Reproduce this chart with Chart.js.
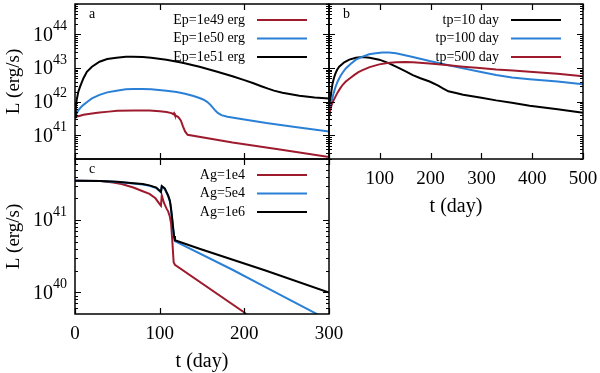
<!DOCTYPE html>
<html>
<head>
<meta charset="utf-8">
<script src="https://cdn.jsdelivr.net/npm/chart.js@4"></script>
<style>
  body { margin: 0; background: #fff; }
  #wrap { position: relative; width: 600px; height: 373px; }
  #wrap canvas { position: absolute; left: 0; top: 0; }
</style>
</head>
<body>
<div id="wrap">
  <canvas id="chartA" width="600" height="373"></canvas>
  <canvas id="chartB" width="600" height="373"></canvas>
  <canvas id="chartC" width="600" height="373"></canvas>
</div>
<script>
// panel a: different Ep
const tA49 = [0, 5, 10, 20, 29, 40, 50, 69, 88, 100, 108, 114, 116, 117, 118, 122, 125, 127.5, 130, 133, 186, 240, 300];
const lA49 = [3.5e41, 3.8e41, 4.1e41, 4.5e41, 4.8e41, 5.1e41, 5.4e41, 5.5e41, 5.5e41, 5.25e41, 5.0e41, 4.6e41, 4.3e41, 4.6e41, 4.0e41, 3.5e41, 2.8e41, 1.86e41, 1.32e41, 1.05e41, 6.2e40, 3.9e40, 2.3e40];
const tA50 = [0, 2, 4, 7, 10, 15, 20, 29, 38, 49, 60, 69, 80, 90, 108, 120, 130, 140, 147, 152, 156, 160, 163, 166, 169, 173, 180, 200, 226, 260, 300];
const lA50 = [3.5e41, 4.5e41, 5.6e41, 6.9e41, 8.1e41, 1.02e42, 1.26e42, 1.6e42, 1.9e42, 2.14e42, 2.34e42, 2.4e42, 2.4e42, 2.34e42, 2.14e42, 1.95e42, 1.74e42, 1.48e42, 1.29e42, 1.15e42, 1.0e42, 8.1e41, 6.6e41, 5.4e41, 4.6e41, 4.0e41, 3.6e41, 3.0e41, 2.34e41, 1.78e41, 1.32e41];
const tA51 = [0, 1, 2, 4, 6, 10, 14, 20, 29, 38, 49, 60, 68, 80, 90, 108, 127, 147, 166, 186, 200, 210, 220, 228, 235, 245, 265, 283, 300];
const lA51 = [3.5e41, 7.1e41, 1.15e42, 2.0e42, 2.8e42, 5.0e42, 7.8e42, 1.1e43, 1.55e43, 1.86e43, 2.04e43, 2.16e43, 2.19e43, 2.14e43, 2.04e43, 1.78e43, 1.45e43, 1.1e43, 8.1e42, 5.75e42, 4.4e42, 3.6e42, 2.9e42, 2.45e42, 2.14e42, 1.86e42, 1.5e42, 1.35e42, 1.26e42];

// panel b: different tp
const tB10 = [0, 1.5, 3, 5, 7, 10, 13, 16, 20, 30, 40, 53, 66, 80, 99, 115, 132, 150, 165, 180, 198, 215, 225, 235, 250, 264, 300, 329, 360, 395, 450, 500];
const lB10 = [4.2e41, 7.9e41, 1.26e42, 2.24e42, 3.5e42, 5.25e42, 7.1e42, 8.9e42, 1.1e43, 1.48e43, 1.78e43, 2.04e43, 2.14e43, 2.04e43, 1.78e43, 1.45e43, 1.1e43, 8.1e42, 6.2e42, 5.0e42, 4.0e42, 3.0e42, 2.45e42, 2.04e42, 1.82e42, 1.62e42, 1.32e42, 1.1e42, 9.3e41, 7.6e41, 6.0e41, 4.7e41];
const tB100 = [0, 3, 5, 9, 13, 17, 22, 27, 33, 43, 53, 66, 79, 92, 105, 118, 132, 165, 198, 231, 264, 297, 329, 360, 395, 450, 500];
const lB100 = [4.2e41, 7.1e41, 1.0e42, 1.78e42, 2.8e42, 4.0e42, 5.6e42, 7.4e42, 9.8e42, 1.35e43, 1.78e43, 2.19e43, 2.57e43, 2.75e43, 2.88e43, 2.88e43, 2.75e43, 2.14e43, 1.62e43, 1.26e43, 9.8e42, 7.8e42, 6.2e42, 5.25e42, 4.7e42, 4.0e42, 3.3e42];
const tB500 = [0, 3, 5, 9, 13, 17, 22, 27, 33, 42, 50, 58, 66, 80, 99, 115, 132, 150, 165, 198, 231, 264, 297, 329, 362, 395, 450, 500];
const lB500 = [4.2e41, 6.0e41, 7.9e41, 1.1e42, 1.45e42, 1.9e42, 2.5e42, 3.2e42, 4.0e42, 5.1e42, 6.3e42, 7.6e42, 8.7e42, 1.07e43, 1.29e43, 1.41e43, 1.48e43, 1.51e43, 1.48e43, 1.38e43, 1.23e43, 1.1e43, 1.0e43, 9.1e42, 8.5e42, 7.8e42, 6.8e42, 5.75e42];

// panel c: different Ag
const tC1e4 = [0, 30, 45, 55, 69, 80, 88, 95, 100, 101.5, 102.5, 105, 108, 110, 112, 113.5, 115, 116.5, 118, 200, 205];
const lC1e4 = [3.5e41, 3.47e41, 3.3e41, 3.16e41, 2.82e41, 2.5e41, 2.3e41, 2.0e41, 1.66e41, 1.58e41, 2.2e41, 1.74e41, 1.45e41, 1.32e41, 1.12e41, 8.9e40, 5.0e40, 2.6e40, 2.4e40, 5.25e39, 4.6e39];
const tC5e4 = [0, 30, 50, 69, 80, 88, 96, 101.5, 102.5, 106, 108, 110, 112, 113, 114.5, 116, 117, 118, 186, 225, 290];
const lC5e4 = [3.5e41, 3.46e41, 3.37e41, 3.2e41, 3.1e41, 2.97e41, 2.78e41, 2.42e41, 2.92e41, 2.7e41, 2.4e41, 2.14e41, 1.82e41, 1.55e41, 1.1e41, 7.4e40, 5.9e40, 5.1e40, 2.05e40, 1.18e40, 4.7e39];
const tC1e6 = [0, 30, 50, 69, 80, 88, 96, 101.5, 102.5, 106, 108, 110, 112, 113, 114.5, 116, 117, 118, 147, 225, 300];
const lC1e6 = [3.5e41, 3.47e41, 3.39e41, 3.24e41, 3.16e41, 3.02e41, 2.82e41, 2.45e41, 2.95e41, 2.75e41, 2.45e41, 2.19e41, 1.86e41, 1.58e41, 1.12e41, 7.6e40, 6.0e40, 5.25e40, 4.0e40, 2.0e40, 9.9e39];

const xTicksA = [0, 100, 200, 300];
const xTicksB = [100, 200, 300, 400, 500];
const RED = '#9e1b2e', BLUE = '#2a80d6', BLACK = '#000000';
const FONT = '"Liberation Serif", "DejaVu Serif", serif';

function pts(ts, ls) {
    return ts.map((t, i) => ({ x: t, y: ls[i] }));
}

function ds(label, ts, ls, color, order) {
    return {
        label,
        data: pts(ts, ls),
        borderColor: color,
        borderWidth: 2,
        pointRadius: 0,
        fill: false,
        tension: 0,
        order,
    };
}

// frame, inside ticks, tick labels, legend and axis titles (gnuplot look)
const framePlugin = {
    id: 'frame',
    afterDraw(chart, args, o) {
        const { ctx, chartArea: a, scales: { x, y } } = chart;
        ctx.save();
        ctx.strokeStyle = '#000';
        ctx.lineWidth = 1.2;
        ctx.beginPath();

        // x ticks
        o.xTicks.forEach(v => {
            const px = Math.round(x.getPixelForValue(v)) + 0.5;
            ctx.moveTo(px, a.bottom); ctx.lineTo(px, a.bottom - 6);
            ctx.moveTo(px, a.top); ctx.lineTo(px, a.top + 6);
        });

        // log y ticks
        const lo = Math.floor(Math.log10(y.min)), hi = Math.ceil(Math.log10(y.max));
        for (let k = lo; k <= hi; k++) {
            for (let m = 1; m <= 9; m++) {
                const v = m * Math.pow(10, k);
                if (v < y.min || v > y.max) continue;
                const py = Math.round(y.getPixelForValue(v)) + 0.5;
                const len = m === 1 ? 6 : 3;
                ctx.moveTo(a.left, py); ctx.lineTo(a.left + len, py);
                ctx.moveTo(a.right, py); ctx.lineTo(a.right - len, py);
            }
        }
        ctx.stroke();
        ctx.lineWidth = 1.5;
        ctx.strokeRect(a.left, a.top, a.width, a.height);

        ctx.fillStyle = '#000';
        ctx.textBaseline = 'middle';

        // y tick labels 10^n
        if (o.yLabels) {
            for (let k = lo; k <= hi; k++) {
                const v = Math.pow(10, k);
                if (v < y.min || v > y.max) continue;
                const py = y.getPixelForValue(v);
                ctx.font = '14px ' + FONT;
                ctx.textAlign = 'right';
                const ew = ctx.measureText(String(k)).width;
                ctx.fillText(String(k), a.left - 8, py - 8);
                ctx.font = '20px ' + FONT;
                ctx.fillText('10', a.left - 8 - ew, py + 1);
            }
            ctx.save();
            ctx.translate(a.left - 61, (a.top + a.bottom) / 2);
            ctx.rotate(-Math.PI / 2);
            ctx.textAlign = 'center';
            ctx.font = '19px ' + FONT;
            ctx.fillText('L (erg/s)', 0, 0);
            ctx.restore();
        }

        // x tick labels
        if (o.xLabels) {
            ctx.font = '19px ' + FONT;
            ctx.textAlign = 'center';
            o.xLabels.forEach(v => {
                ctx.fillText(String(v), x.getPixelForValue(v), a.bottom + 20);
            });
            ctx.font = '20px ' + FONT;
            ctx.fillText('t (day)', (a.left + a.right) / 2, a.bottom + 48);
        }

        // panel letter
        ctx.font = '14px ' + FONT;
        ctx.textAlign = 'left';
        ctx.fillText(o.letter, a.left + 14, a.top + 10);

        // legend, in dataset order
        ctx.font = '14px ' + FONT;
        chart.data.datasets.forEach((d, i) => {
            const ly = a.top + 16 + i * 18.5;
            ctx.textAlign = 'right';
            ctx.fillText(d.label, o.legendX, ly);
            ctx.strokeStyle = d.borderColor;
            ctx.lineWidth = 2;
            ctx.beginPath();
            ctx.moveTo(o.legendX + 12, ly);
            ctx.lineTo(o.legendX + 62, ly);
            ctx.stroke();
        });
        ctx.restore();
    }
};

function makeChart(id, datasets, xMax, yMin, yMax, pad, frame) {
    return new Chart(document.getElementById(id).getContext('2d'), {
        type: 'line',
        data: { datasets },
        options: {
            responsive: false,
            animation: false,
            devicePixelRatio: 1,
            layout: { padding: pad },
            scales: {
                x: { type: 'linear', min: 0, max: xMax, display: false },
                y: { type: 'logarithmic', min: yMin, max: yMax, display: false },
            },
            plugins: {
                legend: { display: false },
                tooltip: { enabled: false },
                frame,
            },
        },
        plugins: [framePlugin],
    });
}

makeChart('chartA', [
    ds('Ep=1e49 erg', tA49, lA49, RED, 3),
    ds('Ep=1e50 erg', tA50, lA50, BLUE, 2),
    ds('Ep=1e51 erg', tA51, lA51, BLACK, 1),
], 300, 2e40, 8e44, { left: 75, top: 4, right: 271, bottom: 214 },
    { xTicks: xTicksA, yLabels: true, xLabels: null, letter: 'a', legendX: 245 });

makeChart('chartB', [
    ds('tp=10 day', tB10, lB10, BLACK, 3),
    ds('tp=100 day', tB100, lB100, BLUE, 2),
    ds('tp=500 day', tB500, lB500, RED, 1),
], 500, 2e40, 8e44, { left: 329, top: 4, right: 17, bottom: 214 },
    { xTicks: xTicksB, yLabels: false, xLabels: xTicksB, letter: 'b', legendX: 499 });

makeChart('chartC', [
    ds('Ag=1e4', tC1e4, lC1e4, RED, 3),
    ds('Ag=5e4', tC5e4, lC5e4, BLUE, 2),
    ds('Ag=1e6', tC1e6, lC1e6, BLACK, 1),
], 300, 5e39, 7e41, { left: 75, top: 159, right: 271, bottom: 59 },
    { xTicks: xTicksA, yLabels: true, xLabels: xTicksA, letter: 'c', legendX: 245 });
</script>
</body>
</html>
